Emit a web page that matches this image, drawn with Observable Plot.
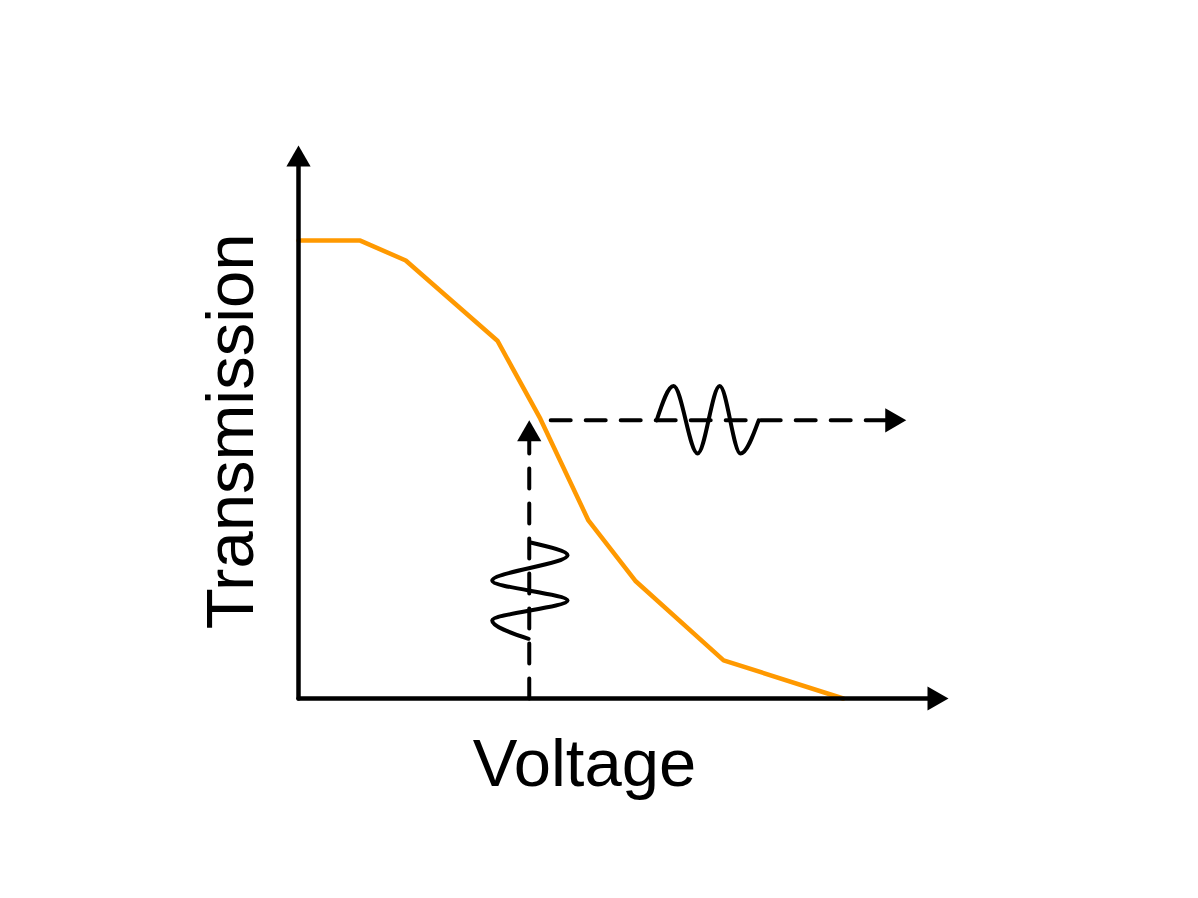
<!DOCTYPE html>
<html>
<head>
<meta charset="utf-8">
<script src="https://cdn.jsdelivr.net/npm/d3@7"></script>
<script src="https://cdn.jsdelivr.net/npm/@observablehq/plot@0.6"></script>
<style>
  html, body { margin: 0; padding: 0; background: #ffffff; }
  #chart { width: 1198px; height: 898px; }
</style>
</head>
<body>
<div id="chart"></div>
<script>
// Transfer curve (voltage vs transmission), schematic units
const curveVoltage = [0, 0.95, 1.65, 3.06, 3.72, 4.46, 5.18, 6.54, 8.38];
const curveTransmission = [8.28, 8.28, 7.92, 6.47, 5.06, 3.22, 2.13, 0.69, 0];

// Bias (operating) point
const biasVoltage = 3.55;
const biasTransmission = 5.03;
const outputArrowEnd = 9.35;
const outputLineStart = 3.88;

// Input modulation (drawn along the voltage axis, vertical)
const inWaveVoltage = [3.57, 4.14, 2.98, 4.14, 2.98, 3.54];
const inWaveTransmission = [2.82, 2.59, 2.13, 1.77, 1.41, 1.08];

// Output modulation (drawn along the transmission level, horizontal)
const outWaveVoltage = [5.51, 5.77, 6.14, 6.48, 6.80, 7.08];
const outWaveTransmission = [5.03, 5.65, 4.43, 5.65, 4.43, 5.03];

// Axis extents and labels
const axisMax = [10, 10];
const xLabel = "Voltage";
const yLabel = "Transmission";

const curve = curveVoltage.map((v, i) => ({v, t: curveTransmission[i]}));
const inWave = inWaveVoltage.map((v, i) => ({v, t: inWaveTransmission[i]}));
const outWave = outWaveVoltage.map((v, i) => ({v, t: outWaveTransmission[i]}));

const xAxisLine = [{v: 0, t: 0}, {v: axisMax[0] - 0.2, t: 0}];
const yAxisLine = [{v: 0, t: 0}, {v: 0, t: axisMax[1] - 0.3}];
const vDash = [{v: biasVoltage, t: 0}, {v: biasVoltage, t: biasTransmission - 0.3}];
const hDash = [{v: outputLineStart, t: biasTransmission}, {v: outputArrowEnd - 0.2, t: biasTransmission}];

const upHeads = [{v: 0, t: axisMax[1]}, {v: biasVoltage, t: biasTransmission}];
const rightHeads = [{v: axisMax[0], t: 0}, {v: outputArrowEnd, t: biasTransmission}];

const font = "'Liberation Sans', Arial, Helvetica, sans-serif";

const chart = Plot.plot({
  width: 1198,
  height: 898,
  margin: 0,
  style: {background: "#ffffff", fontFamily: font},
  x: {domain: [0, 10], range: [298, 948], axis: null},
  y: {domain: [0, 10], range: [698, 145], axis: null},
  marks: [
    Plot.line(curve, {x: "v", y: "t", stroke: "#FF9900", strokeWidth: 4.5, strokeLinejoin: "miter"}),
    Plot.line(vDash, {x: "v", y: "t", stroke: "black", strokeWidth: 4, strokeDasharray: "20,15"}),
    Plot.line(hDash, {x: "v", y: "t", stroke: "black", strokeWidth: 4, strokeDasharray: "20,15"}),
    Plot.line(inWave, {x: "v", y: "t", stroke: "black", strokeWidth: 4, curve: "monotone-y"}),
    Plot.line(outWave, {x: "v", y: "t", stroke: "black", strokeWidth: 4, curve: "monotone-x"}),
    Plot.line(xAxisLine, {x: "v", y: "t", stroke: "black", strokeWidth: 4.5}),
    Plot.line(yAxisLine, {x: "v", y: "t", stroke: "black", strokeWidth: 4.5}),
    Plot.dot(upHeads, {x: "v", y: "t", symbol: "triangle", r: 9, fill: "black", dy: 14}),
    Plot.dot(rightHeads, {x: "v", y: "t", symbol: "triangle", r: 9, fill: "black", rotate: 90, dx: -14}),
    Plot.text([xLabel], {x: 4.4, y: -1.19, text: d => d, fontSize: 67, fill: "black", lineAnchor: "middle", textAnchor: "middle"}),
    Plot.text([yLabel], {x: -1.03, y: 4.83, text: d => d, fontSize: 67, fill: "black", rotate: -90, lineAnchor: "middle", textAnchor: "middle"})
  ]
});
document.getElementById("chart").appendChild(chart);
</script>
</body>
</html>
